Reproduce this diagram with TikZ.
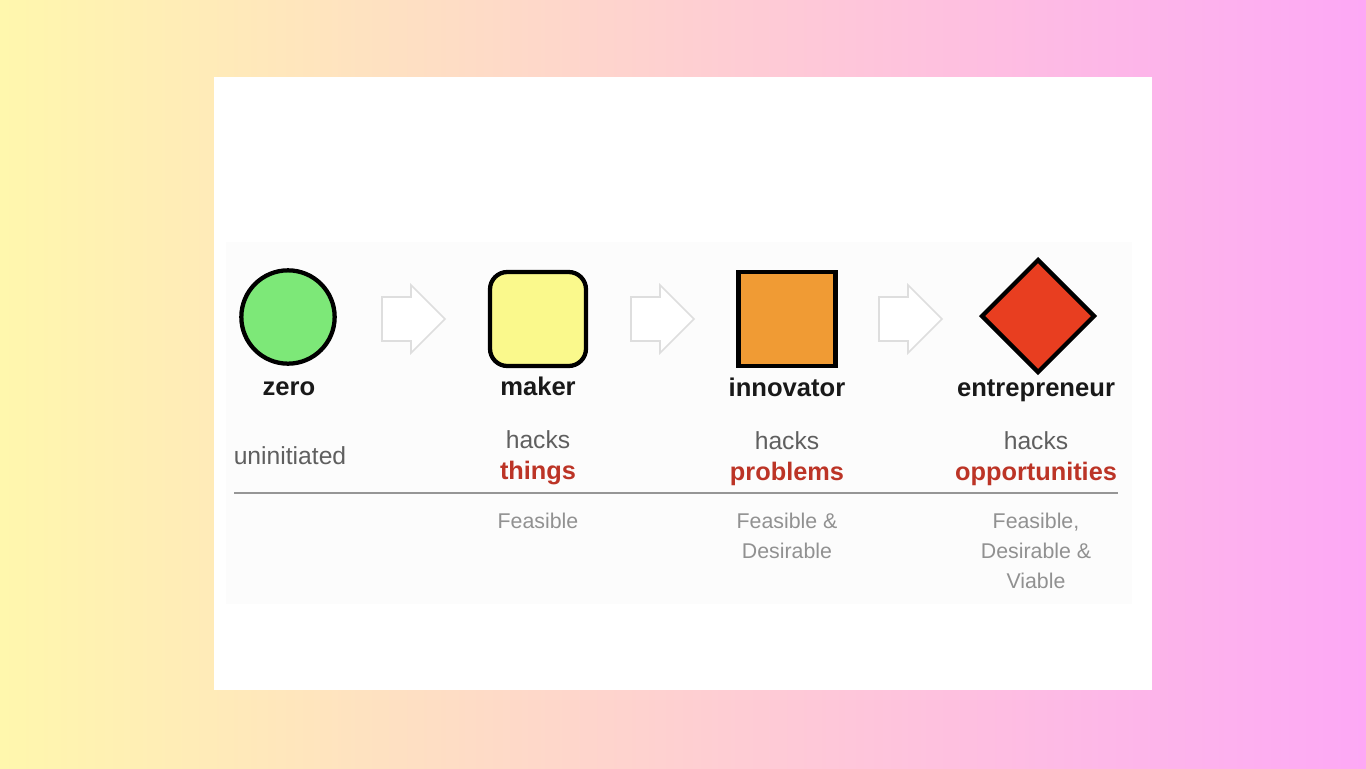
\documentclass[tikz,border=0pt]{standalone}
\usepackage{fontspec}
\setmainfont{Liberation Sans}
\usetikzlibrary{shapes.geometric}
\definecolor{bgleft}{RGB}{255,247,173}
\definecolor{bgright}{RGB}{253,168,245}
\definecolor{zerofill}{RGB}{125,232,120}
\definecolor{makerfill}{RGB}{250,249,140}
\definecolor{innofill}{RGB}{240,155,52}
\definecolor{entrefill}{RGB}{232,62,32}
\definecolor{hackred}{RGB}{188,52,38}
\definecolor{hackgray}{RGB}{95,95,95}
\definecolor{softgray}{RGB}{145,145,145}
\definecolor{arrowgray}{RGB}{222,222,222}
\definecolor{rulegray}{RGB}{150,150,150}
\begin{document}
\begin{tikzpicture}[x=0.75pt,y=-0.75pt,
  stage/.style={draw=black,line width=3.2pt,inner sep=0pt,outer sep=0pt},
  title/.style={font=\fontsize{19.2}{21}\selectfont\bfseries,text=black!90,inner sep=0pt,anchor=base},
  hack/.style={font=\fontsize{18.5}{20}\selectfont,text=hackgray,inner sep=0pt,anchor=base},
  target/.style={font=\fontsize{19}{21}\selectfont\bfseries,text=hackred,inner sep=0pt,anchor=base},
  quality/.style={font=\fontsize{16}{22.5}\selectfont,text=softgray,inner sep=0pt,anchor=north,align=center},
  blockarrow/.style={draw=arrowgray,line width=1.2pt,fill=white,line join=miter}]
\useasboundingbox (0,0) rectangle (1366,768);
% backdrop and card
\shade[left color=bgleft,right color=bgright] (0,0) rectangle (1366,768);
\fill[white] (214,77) rectangle (1152,690);
\fill[black!1] (226,242) rectangle (1132,604);
% the four stages
\node[stage,circle,fill=zerofill,minimum size=70pt] (zero) at (288,317) {};
\node[stage,rectangle,rounded corners=13pt,fill=makerfill,minimum width=72pt,minimum height=70.5pt] (maker) at (538,319) {};
\node[stage,rectangle,fill=innofill,minimum width=72.75pt,minimum height=70.5pt] (inno) at (787,319) {};
\node[stage,diamond,fill=entrefill,minimum width=84pt,minimum height=84pt] (entre) at (1038,316) {};
% block arrows between stages
\foreach \ax in {382,631,879}{
  \draw[blockarrow] (\ax,297) -- (\ax+29,297) -- (\ax+29,285) -- (\ax+63,319)
     -- (\ax+29,353) -- (\ax+29,341) -- (\ax,341) -- cycle;
}
% titles
\node[title] (tzero) at (289,395) {zero};
\node[title] (tmaker) at (538,395) {maker};
\node[title] (tinno) at (787,396) {innovator};
\node[title] (tentre) at (1036,396) {entrepreneur};
% what each stage hacks
\node[hack] (uninit) at (290,464) {uninitiated};
\node[hack] (hmaker) at (538,448) {hacks};
\node[hack] (hinno) at (787,449) {hacks};
\node[hack] (hentre) at (1036,449) {hacks};
\node[target] (things) at (538,479) {things};
\node[target] (problems) at (787,480) {problems};
\node[target] (opps) at (1036,480) {opportunities};
% rule
\draw[rulegray,line width=1.3pt] (234,493) -- (1118,493);
% qualities
\node[quality] (qmaker) at (538,513) {Feasible};
\node[quality] (qinno) at (787,513) {Feasible \&\\Desirable};
\node[quality] (qentre) at (1036,513) {Feasible,\\Desirable \&\\Viable};
\end{tikzpicture}
\end{document}
